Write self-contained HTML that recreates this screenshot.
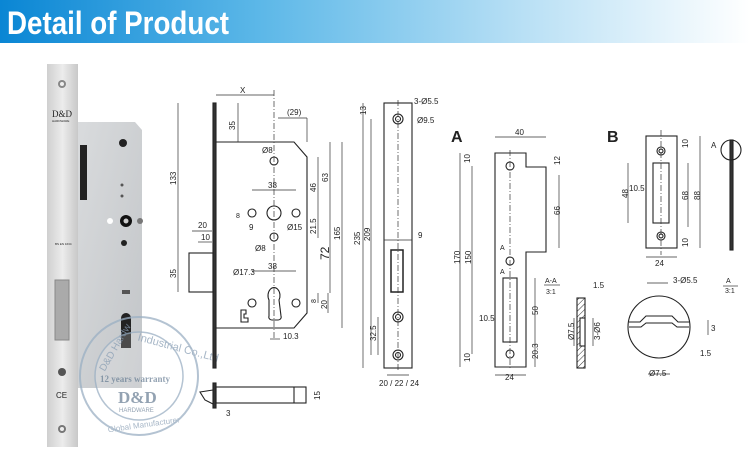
<!DOCTYPE html>
<html><head><meta charset="utf-8"><style>
html,body{margin:0;padding:0;background:#fff;}
svg{display:block;}
text{font-family:"Liberation Sans",sans-serif;fill:#222;}
</style></head><body>
<svg width="750" height="464" viewBox="0 0 750 464" xmlns="http://www.w3.org/2000/svg">
<defs>
<linearGradient id="hd" x1="0" x2="1" y1="0" y2="0">
<stop offset="0" stop-color="#0a86d4"/><stop offset="0.35" stop-color="#5db8e8"/><stop offset="0.7" stop-color="#b9e0f5"/><stop offset="1" stop-color="#ffffff"/>
</linearGradient>
<linearGradient id="fp" x1="0" x2="1"><stop offset="0" stop-color="#cfcfcf"/><stop offset="0.5" stop-color="#ececec"/><stop offset="1" stop-color="#c8c8c8"/></linearGradient>
<linearGradient id="bd" x1="0" x2="1" y1="0" y2="1"><stop offset="0" stop-color="#d9dbdd"/><stop offset="1" stop-color="#c2c5c8"/></linearGradient>
<pattern id="hat" width="4" height="4" patternUnits="userSpaceOnUse" patternTransform="rotate(45)"><line x1="0" y1="0" x2="0" y2="4" stroke="#333" stroke-width="1"/></pattern>
</defs>
<rect x="0" y="0" width="750" height="43" fill="url(#hd)"/>
<text x="7" y="34" font-size="32" font-weight="bold" fill="#fff" style="fill:#fff" textLength="222" lengthAdjust="spacingAndGlyphs">Detail of Product</text>

<!-- photo -->
<path d="M78 122 L135 122 L142 130 L142 388 L78 388 Z" fill="url(#bd)"/>
<rect x="80" y="145" width="7" height="55" fill="#222"/>
<circle cx="123" cy="143" r="4" fill="#222"/><circle cx="122" cy="185" r="1.5" fill="#555"/><circle cx="122" cy="196" r="1.5" fill="#555"/>
<circle cx="126" cy="221" r="6" fill="#111"/><circle cx="126" cy="221" r="2.5" fill="#ccc"/>
<circle cx="110" cy="221" r="3" fill="#fff"/><circle cx="140" cy="221" r="3" fill="#777"/>
<circle cx="124" cy="243" r="3" fill="#222"/>
<rect x="122" y="290" width="8" height="4" fill="#555"/>
<path d="M121 318 a5 5 0 0 1 10 0 v30 h-10 z" fill="#222"/>
<rect x="47" y="64" width="31" height="383" fill="url(#fp)"/>
<circle cx="62" cy="84" r="4" fill="#888"/><circle cx="62" cy="84" r="2" fill="#eee"/>
<text x="52" y="117" font-size="9" font-family="Liberation Serif" style="font-family:'Liberation Serif',serif" fill="#666">D&amp;D</text>
<text x="52" y="122" font-size="3" fill="#777">HARDWARE</text>
<text x="55" y="245" font-size="3" fill="#777">BS EN 1634</text>
<rect x="55" y="280" width="14" height="60" fill="#aaa" stroke="#888"/>
<circle cx="62" cy="372" r="4" fill="#555"/><circle cx="62" cy="429" r="4" fill="#777"/><circle cx="62" cy="429" r="2" fill="#eee"/>
<text x="56" y="398" font-size="8" fill="#888">CE</text>
<!-- watermark -->
<g opacity="0.75">
<circle cx="139" cy="376" r="59" fill="none" stroke="#9bb0c4" stroke-width="2"/>
<circle cx="139" cy="376" r="44" fill="rgba(255,255,255,0.25)" stroke="#9bb0c4" stroke-width="1.5"/>
<text x="92" y="370" font-size="10" style="fill:#8a9fb5" transform="rotate(-60 100 360)">D&amp;D Hardw</text>
<text x="128" y="342" font-size="11" style="fill:#8a9fb5" transform="rotate(15 139 376)">Industrial Co.,Ltd</text>
<text x="100" y="382" font-size="9" font-weight="bold" style="fill:#6f8499;font-family:'Liberation Serif',serif">12 years warranty</text>
<text x="118" y="403" font-size="17" font-weight="bold" style="fill:#6f8499;font-family:'Liberation Serif',serif">D&amp;D</text>
<text x="119" y="412" font-size="6" style="fill:#6f8499">HARDWARE</text>
<text x="108" y="428" font-size="8" style="fill:#8a9fb5" transform="rotate(-8 139 428)">Global Manufacturer</text>
</g>

<g stroke="#222" fill="none" stroke-width="1.1">
<rect x="213" y="103" width="3" height="265" fill="#333"/>
<path d="M216 142 H294 L307 157 V313 L294 328 H216"/>
<circle cx="274" cy="161" r="4"/><circle cx="274" cy="213" r="7"/><circle cx="252" cy="213" r="4"/><circle cx="296" cy="213" r="4"/><circle cx="274" cy="237" r="4"/>
<path d="M269 300 a6 8 0 1 1 10 0 l2 16 a3 3 0 0 1 -3 4 h-6 a3 3 0 0 1 -3 -4 z"/>
<circle cx="252" cy="303" r="4"/><circle cx="296" cy="303" r="4"/>
<path d="M241 310 h5 v4 h-2 v4 h4 v4 h-7 z"/>
<rect x="189" y="253" width="24" height="39"/>
<rect x="213" y="383" width="3" height="25" fill="#333"/>
<rect x="216" y="387" width="90" height="16"/><line x1="294" y1="387" x2="294" y2="403"/>
<path d="M213 390 L200 392 L205 400 L213 404"/>
<rect x="384" y="103" width="28" height="265"/>
<circle cx="398" cy="119" r="5"/><circle cx="398" cy="119" r="2.5"/>
<circle cx="398" cy="317" r="5"/><circle cx="398" cy="317" r="2.5"/>
<circle cx="398" cy="355" r="5"/><circle cx="398" cy="355" r="2.5"/>
<rect x="391" y="250" width="12" height="42" stroke-width="1.5"/>
<path d="M495 153 H526 V167 H546 V252 H526 V367 H495 Z"/>
<circle cx="510" cy="166" r="4"/><circle cx="510" cy="261" r="4"/><circle cx="510" cy="354" r="4"/>
<rect x="503" y="278" width="14" height="64"/>
<rect x="577" y="298" width="8" height="70" fill="url(#hat)"/>
<rect x="580" y="318" width="5" height="28" fill="#fff"/>
<rect x="646" y="136" width="31" height="112"/>
<circle cx="661" cy="151" r="4"/><circle cx="661" cy="151" r="2"/>
<circle cx="661" cy="236" r="4"/><circle cx="661" cy="236" r="2"/>
<rect x="653" y="163" width="16" height="60"/>
<rect x="730" y="140" width="3" height="110" fill="#333"/>
<circle cx="731" cy="150" r="10"/>
<circle cx="659" cy="327" r="31"/>
<path d="M629 322 H640 L646 316 H672 L678 322 H689 M629 327 H641 L646 323 H672 L677 327 H689"/>
</g>

<g stroke="#333" stroke-width="0.7" fill="none">
<line x1="216" y1="95" x2="274" y2="95"/><line x1="274" y1="90" x2="274" y2="340" stroke-dasharray="6 2 1 2"/>
<line x1="238" y1="103" x2="238" y2="142"/><line x1="178" y1="103" x2="178" y2="253"/><line x1="178" y1="253" x2="178" y2="292"/>
<line x1="278" y1="118" x2="307" y2="118"/><line x1="307" y1="118" x2="307" y2="142"/>
<line x1="318" y1="157" x2="318" y2="213"/><line x1="330" y1="142" x2="330" y2="213"/><line x1="342" y1="142" x2="342" y2="328"/>
<line x1="318" y1="213" x2="318" y2="238"/><line x1="330" y1="213" x2="330" y2="293"/><line x1="318" y1="293" x2="318" y2="303"/><line x1="328" y1="293" x2="328" y2="313"/>
<line x1="252" y1="190" x2="296" y2="190"/><line x1="252" y1="271" x2="296" y2="271"/><line x1="270" y1="339" x2="280" y2="339"/>
<line x1="192" y1="231" x2="212" y2="231"/><line x1="198" y1="242" x2="212" y2="242"/>
<line x1="363" y1="103" x2="363" y2="368"/><line x1="371" y1="119" x2="371" y2="355"/><line x1="378" y1="317" x2="378" y2="355"/>
<line x1="398" y1="100" x2="398" y2="370" stroke-dasharray="6 2 1 2"/>
<line x1="387" y1="375" x2="409" y2="375"/><line x1="384" y1="240" x2="412" y2="240"/>
<line x1="495" y1="137" x2="546" y2="137"/><line x1="460" y1="153" x2="460" y2="367"/><line x1="472" y1="166" x2="472" y2="354"/>
<line x1="559" y1="175" x2="559" y2="248"/><line x1="535" y1="278" x2="535" y2="342"/><line x1="535" y1="342" x2="535" y2="367"/>
<line x1="495" y1="375" x2="526" y2="375"/><line x1="510" y1="150" x2="510" y2="370" stroke-dasharray="6 2 1 2"/>
<line x1="628" y1="163" x2="628" y2="223"/><line x1="688" y1="163" x2="688" y2="227"/><line x1="700" y1="136" x2="700" y2="248"/>
<line x1="646" y1="257" x2="677" y2="257"/><line x1="661" y1="130" x2="661" y2="255" stroke-dasharray="6 2 1 2"/>
<line x1="647" y1="283" x2="668" y2="283"/><line x1="648" y1="374" x2="670" y2="374"/><line x1="708" y1="320" x2="708" y2="335"/>
<line x1="574" y1="318" x2="574" y2="346"/><line x1="593" y1="318" x2="593" y2="346"/>
<line x1="723" y1="286" x2="738" y2="286"/><line x1="544" y1="285" x2="560" y2="285"/>
</g>

<g font-size="8">
<text x="240" y="93">X</text>
<text x="287" y="115">(29)</text>
<text x="262" y="153">Ø8</text><text x="268" y="188">38</text><text x="236" y="218" font-size="7">8</text><text x="249" y="230">9</text>
<text x="287" y="230">Ø15</text><text x="255" y="251">Ø8</text><text x="233" y="275">Ø17.3</text><text x="268" y="269">38</text>
<text x="283" y="339">10.3</text><text x="198" y="228">20</text><text x="201" y="240">10</text>
<text transform="translate(235 130) rotate(-90)">35</text>
<text transform="translate(176 185) rotate(-90)">133</text>
<text transform="translate(176 278) rotate(-90)">35</text>
<text transform="translate(316 192) rotate(-90)">46</text>
<text transform="translate(328 182) rotate(-90)">63</text>
<text transform="translate(316 234) rotate(-90)">21.5</text>
<text transform="translate(340 240) rotate(-90)">165</text>
<text transform="translate(329 260) rotate(-90)" font-size="12">72</text>
<text transform="translate(316 303) rotate(-90)" font-size="7">8</text>
<text transform="translate(327 309) rotate(-90)">20</text>
<text transform="translate(320 400) rotate(-90)">15</text>
<text x="226" y="416">3</text>
<text x="414" y="104">3-Ø5.5</text><text x="417" y="123">Ø9.5</text>
<text transform="translate(366 115) rotate(-90)">13</text>
<text transform="translate(360 245) rotate(-90)">235</text>
<text transform="translate(370 241) rotate(-90)">209</text>
<text x="418" y="238">9</text>
<text transform="translate(376 341) rotate(-90)">32.5</text>
<text x="379" y="386">20 / 22 / 24</text>
<text x="451" y="142" font-size="16" font-weight="bold">A</text>
<text x="515" y="135">40</text>
<text transform="translate(470 163) rotate(-90)">10</text>
<text transform="translate(560 165) rotate(-90)">12</text>
<text transform="translate(560 215) rotate(-90)">66</text>
<text transform="translate(460 264) rotate(-90)">170</text>
<text transform="translate(471 264) rotate(-90)">150</text>
<text x="500" y="250" font-size="7">A</text><text x="500" y="274" font-size="7">A</text>
<text x="545" y="283" font-size="7">A-A</text><text x="546" y="294" font-size="7">3:1</text>
<text transform="translate(538 315) rotate(-90)">50</text>
<text x="479" y="321">10.5</text>
<text transform="translate(538 359) rotate(-90)">20.3</text>
<text transform="translate(470 362) rotate(-90)">10</text>
<text x="505" y="380">24</text>
<text x="593" y="288">1.5</text>
<text transform="translate(574 340) rotate(-90)">Ø7.5</text>
<text transform="translate(600 340) rotate(-90)">3-Ø6</text>
<text x="607" y="142" font-size="16" font-weight="bold">B</text>
<text transform="translate(688 148) rotate(-90)">10</text>
<text transform="translate(688 200) rotate(-90)">68</text>
<text transform="translate(700 200) rotate(-90)">88</text>
<text transform="translate(688 247) rotate(-90)">10</text>
<text transform="translate(628 198) rotate(-90)">48</text>
<text x="629" y="191">10.5</text>
<text x="655" y="266">24</text>
<text x="711" y="148">A</text>
<text x="673" y="283">3-Ø5.5</text>
<text x="726" y="283" font-size="7">A</text><text x="725" y="293" font-size="7">3:1</text>
<text x="711" y="331">3</text><text x="700" y="356">1.5</text>
<text x="649" y="376">Ø7.5</text>
</g>
</svg>
</body></html>
